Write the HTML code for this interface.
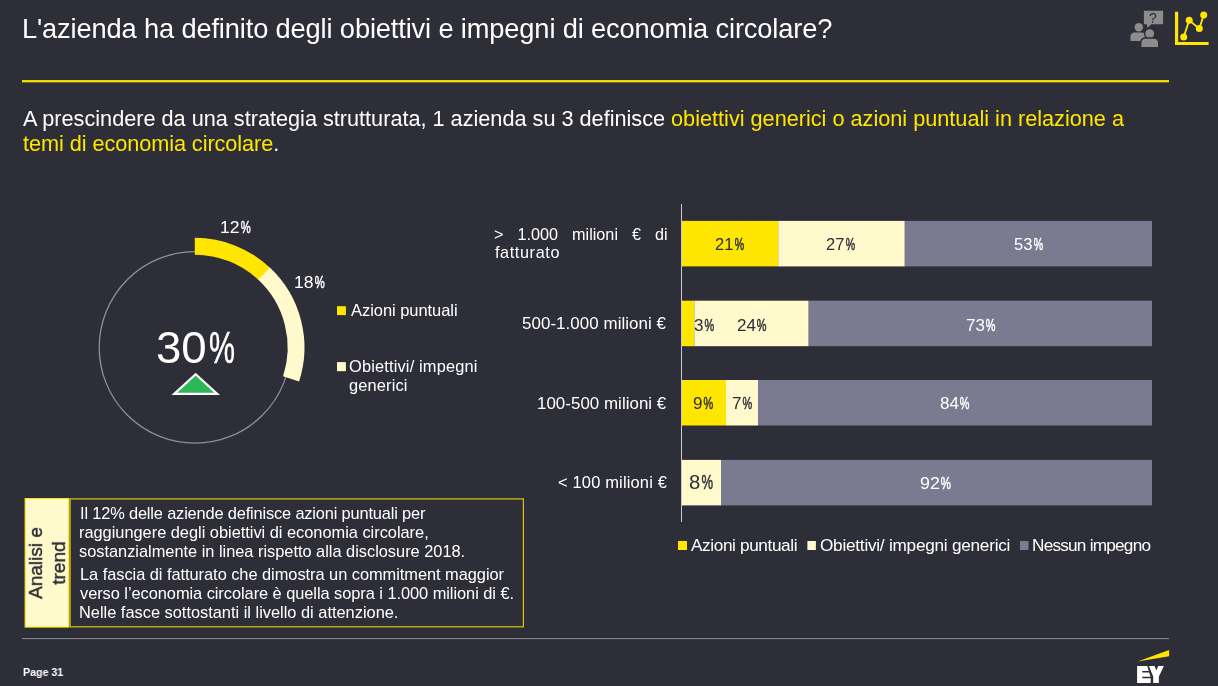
<!DOCTYPE html>
<html><head><meta charset="utf-8">
<style>
html,body{margin:0;padding:0;}
body{width:1218px;height:686px;background:#2e2e38;position:relative;overflow:hidden;font-family:"Liberation Sans",sans-serif;color:#fff;}
.t{will-change:transform;position:absolute;white-space:nowrap;line-height:1;transform-origin:0 0;}
i{font-style:normal;display:inline-block;margin-left:0.06em;transform:scaleX(0.64);transform-origin:0 0;-webkit-text-stroke:0.5px currentColor;}
</style></head><body>
<svg style="position:absolute;left:0;top:0" width="1218" height="686" viewBox="0 0 1218 686">
 <rect x="22" y="80.1" width="1147" height="2.2" fill="#ffe600"/>
 <circle cx="194.9" cy="347.4" r="95.7" fill="none" stroke="#8f8f96" stroke-width="1.3"/>
 <path d="M194.80,246.25 A101.25,101.25 0 0 1 264.50,274.06" fill="none" stroke="#ffe600" stroke-width="16.8"/>
 <path d="M264.11,273.69 A101.25,101.25 0 0 1 291.09,378.79" fill="none" stroke="#fff9cc" stroke-width="16.8"/>
 <path d="M195.7,374.2 L217.2,393.9 L174.2,393.9 Z" fill="#2db757" stroke="#fff" stroke-width="2.2" stroke-linejoin="miter"/>
 <rect x="337" y="306.2" width="8.9" height="8.9" fill="#ffe600"/>
 <rect x="337" y="362.1" width="8.9" height="9.1" fill="#fff9cc"/>
 <rect x="681" y="204" width="1" height="318" fill="#c8c8d0"/>
 <rect x="682" y="220.9" width="96.20" height="45.5" fill="#ffe600"/><rect x="778.2" y="220.9" width="126.60" height="45.5" fill="#fff9cc"/><rect x="904.8" y="220.9" width="247.20" height="45.5" fill="#7a7a91"/><rect x="682" y="300.7" width="12.30" height="45.5" fill="#ffe600"/><rect x="694.3" y="300.7" width="114.40" height="45.5" fill="#fff9cc"/><rect x="808.7" y="300.7" width="343.30" height="45.5" fill="#7a7a91"/><rect x="682" y="380.0" width="44.00" height="45.5" fill="#ffe600"/><rect x="726" y="380.0" width="32.00" height="45.5" fill="#fff9cc"/><rect x="758" y="380.0" width="394.00" height="45.5" fill="#7a7a91"/><rect x="682" y="459.9" width="39.00" height="45.5" fill="#fff9cc"/><rect x="721" y="459.9" width="431.00" height="45.5" fill="#7a7a91"/>
 <rect x="678" y="541" width="9" height="9" fill="#ffe600"/>
 <rect x="807.4" y="541" width="8.5" height="9" fill="#fff9cc"/>
 <rect x="1020" y="541" width="8.5" height="9" fill="#7a7a91"/>
 <rect x="25.1" y="498.5" width="43.8" height="128.6" fill="#fff9cc" stroke="#ffe600" stroke-width="1"/>
 <rect x="70.1" y="498.9" width="453.3" height="127.9" fill="none" stroke="#d9c60c" stroke-width="1.2"/>
 <rect x="22" y="638" width="1147" height="1.1" fill="#84848c"/>
 <!-- EY logo -->
 <path d="M1137.6,661.6 L1169.1,649.9 L1169.1,656.3 Z" fill="#ffe600"/>
 <path d="M1137.1,666.1 L1147.2,666.1 L1148.8,671 L1142.2,671 L1142.2,672.5 L1149.2,672.5 L1150.5,676.7 L1142.2,676.7 L1142.2,678.2 L1150.7,678.2 L1150.7,683 L1137.1,683 Z" fill="#fff"/>
 <path d="M1148.9,666.1 L1154.6,666.1 L1156.4,670.6 L1158.2,666.1 L1163.9,666.1 L1158.9,676.6 L1158.9,683 L1153.2,683 L1153.2,676.6 Z" fill="#fff"/>
 <!-- icons -->
 <g fill="#8c8c8c">
  <path d="M1143.9,10.8 H1163.1 V24.3 H1151.3 L1147.5,27.8 L1146.8,24.3 H1143.9 Z"/>
  <circle cx="1138.8" cy="27.2" r="4.2"/>
  <path d="M1130.5,40.9 V36.8 Q1130.5,32.6 1135,32.6 H1141 Q1145.5,32.6 1145.5,36.8 V40.9 Z"/>
  <g stroke="#2e2e38" stroke-width="2.8" style="paint-order:stroke">
   <circle cx="1149.7" cy="33.7" r="4.4"/>
   <path d="M1141.4,47 V43 Q1141.4,38.7 1146,38.7 H1153.4 Q1158,38.7 1158,43 V47 Z"/>
  </g>
 </g>
 <g fill="#ffe600" stroke="#ffe600">
  <path d="M1176.6,11.8 V43.5 H1208.6" fill="none" stroke-width="3.2"/>
  <path d="M1183.7,37.1 L1189.2,20.3 L1199.3,28.6 L1203.7,15.1" fill="none" stroke-width="1.8"/>
  <circle cx="1183.7" cy="37.1" r="3.5" stroke="none"/>
  <circle cx="1189.2" cy="20.3" r="3.5" stroke="none"/>
  <circle cx="1199.3" cy="28.6" r="3.5" stroke="none"/>
  <circle cx="1203.7" cy="15.1" r="3.5" stroke="none"/>
 </g>
</svg>
<div class="t" style="left:1149.2px;top:10.6px;font-size:14px;color:#2e2e38;">?</div>
<div class="t" style="left:47px;top:563px;width:0;height:0;">
 <div style="position:absolute;left:0;top:0;transform:translate(-50%,-50%) rotate(-90deg);text-align:center;font-size:19px;line-height:23px;color:#2e2e38;white-space:nowrap;-webkit-text-stroke:0.4px #2e2e38;">Analisi e<br>trend</div>
</div>
<div class="t" style="left:21.90px;top:15.00px;font-size:27.25px;color:#ffffff;letter-spacing:-0.142px;">L'azienda ha definito degli obiettivi e impegni di economia circolare?</div>
<div class="t" style="left:23.20px;top:108.00px;font-size:21.7px;color:#ffffff;letter-spacing:-0.008px;">A prescindere da una strategia strutturata, 1 azienda su 3 definisce <span style="color:#ffe600">obiettivi generici o azioni puntuali in relazione a</span></div>
<div class="t" style="left:23.20px;top:133.00px;font-size:21.7px;color:#ffffff;letter-spacing:-0.065px;"><span style="color:#ffe600">temi di economia circolare</span>.</div>
<div class="t" style="left:220.00px;top:220.00px;font-size:16.86px;color:#ffffff;transform:scaleX(1.0400);">12<i>%</i></div>
<div class="t" style="left:293.60px;top:275.00px;font-size:16.86px;color:#ffffff;transform:scaleX(1.0400);">18<i>%</i></div>
<div class="t" style="left:155.70px;top:326.00px;font-size:43.86px;color:#ffffff;transform:scaleX(1.0400);">30<i>%</i></div>
<div class="t" style="left:350.60px;top:302.00px;font-size:16.5px;color:#ffffff;letter-spacing:-0.050px;">Azioni puntuali</div>
<div class="t" style="left:349.00px;top:358.00px;font-size:16.4px;color:#ffffff;letter-spacing:0.159px;">Obiettivi/ impegni</div>
<div class="t" style="left:349.00px;top:377.00px;font-size:16.4px;color:#ffffff;letter-spacing:0.157px;">generici</div>
<div class="t" style="left:494.00px;top:226.00px;font-size:16.2px;color:#ffffff;word-spacing:9.57px;">&gt; 1.000 milioni € di</div>
<div class="t" style="left:495.00px;top:244.00px;font-size:16.2px;color:#ffffff;letter-spacing:0.625px;">fatturato</div>
<div class="t" style="left:522.30px;top:316.00px;font-size:16.9px;color:#ffffff;letter-spacing:0.072px;">500-1.000 milioni €</div>
<div class="t" style="left:537.10px;top:396.00px;font-size:16.9px;color:#ffffff;letter-spacing:0.038px;">100-500 milioni €</div>
<div class="t" style="left:557.70px;top:474.00px;font-size:16.5px;color:#ffffff;letter-spacing:0.143px;">&lt; 100 milioni €</div>
<div class="t" style="left:715.05px;top:237.00px;font-size:15.9px;color:#2e2e38;transform:scaleX(1.0400);">21<i>%</i></div>
<div class="t" style="left:826.20px;top:237.00px;font-size:15.9px;color:#2e2e38;transform:scaleX(1.0400);">27<i>%</i></div>
<div class="t" style="left:1013.60px;top:237.00px;font-size:15.9px;color:#ffffff;transform:scaleX(1.0400);">53<i>%</i></div>
<div class="t" style="left:693.75px;top:317.00px;font-size:16.4px;color:#2e2e38;transform:scaleX(1.0400);">3<i>%</i></div>
<div class="t" style="left:736.55px;top:317.00px;font-size:16.4px;color:#2e2e38;transform:scaleX(1.0400);">24<i>%</i></div>
<div class="t" style="left:965.60px;top:317.00px;font-size:16.4px;color:#ffffff;transform:scaleX(1.0400);">73<i>%</i></div>
<div class="t" style="left:693.20px;top:395.00px;font-size:16.4px;color:#2e2e38;transform:scaleX(1.0400);">9<i>%</i></div>
<div class="t" style="left:731.50px;top:395.00px;font-size:16.4px;color:#2e2e38;transform:scaleX(1.0400);">7<i>%</i></div>
<div class="t" style="left:939.95px;top:395.00px;font-size:16.4px;color:#ffffff;transform:scaleX(1.0400);">84<i>%</i></div>
<div class="t" style="left:689.00px;top:473.00px;font-size:19.5px;color:#2e2e38;transform:scaleX(1.0400);">8<i>%</i></div>
<div class="t" style="left:920.45px;top:475.00px;font-size:17.2px;color:#ffffff;transform:scaleX(1.0400);">92<i>%</i></div>
<div class="t" style="left:690.90px;top:537.00px;font-size:17.2px;color:#ffffff;letter-spacing:-0.375px;">Azioni puntuali</div>
<div class="t" style="left:819.50px;top:537.00px;font-size:17.2px;color:#ffffff;letter-spacing:-0.246px;">Obiettivi/ impegni generici</div>
<div class="t" style="left:1032.00px;top:537.00px;font-size:17.2px;color:#ffffff;letter-spacing:-0.769px;">Nessun impegno</div>
<div class="t" style="left:79.60px;top:505.00px;font-size:16.4px;color:#ffffff;letter-spacing:-0.165px;">Il 12% delle aziende definisce azioni puntuali per</div>
<div class="t" style="left:79.40px;top:524.00px;font-size:16.4px;color:#ffffff;letter-spacing:-0.022px;">raggiungere degli obiettivi di economia circolare,</div>
<div class="t" style="left:79.40px;top:543.00px;font-size:16.4px;color:#ffffff;letter-spacing:-0.020px;">sostanzialmente in linea rispetto alla disclosure 2018.</div>
<div class="t" style="left:79.80px;top:566.00px;font-size:16.4px;color:#ffffff;letter-spacing:-0.041px;">La fascia di fatturato che dimostra un commitment maggior</div>
<div class="t" style="left:80.40px;top:585.00px;font-size:16.4px;color:#ffffff;letter-spacing:-0.053px;">verso l’economia circolare è quella sopra i 1.000 milioni di €.</div>
<div class="t" style="left:79.40px;top:604.00px;font-size:16.4px;color:#ffffff;letter-spacing:-0.008px;">Nelle fasce sottostanti il livello di attenzione.</div>
<div class="t" style="left:22.50px;top:667.00px;font-size:10.9px;color:#ffffff;font-weight:700;transform:scaleX(0.9800);">Page 31</div>
</body></html>
